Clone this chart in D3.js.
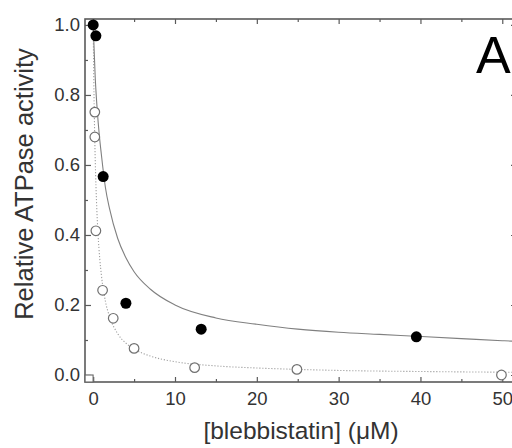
<!DOCTYPE html>
<html>
<head>
<meta charset="utf-8">
<script src="https://cdn.jsdelivr.net/npm/d3@7"></script>
<style>
  html, body { margin: 0; padding: 0; background: #fff; }
  svg { display: block; }
  text { font-family: "Liberation Sans", Arial, sans-serif; }
</style>
</head>
<body>
<svg id="chart" width="512" height="448"></svg>
<script>
// ---- data ----
const filledX = [0, 0.33, 1.22, 4.0, 13.2, 39.5];
const filledY = [1.0, 0.969, 0.567, 0.205, 0.131, 0.109];

const openX = [0.2, 0.2, 0.33, 1.15, 2.45, 5.0, 12.4, 24.9, 49.9];
const openY = [0.751, 0.68, 0.412, 0.242, 0.162, 0.076, 0.021, 0.016, 0.0];

const squareX = [-0.5];
const squareY = [-0.01];

// solid fitted curve (filled circles)
const solidX = [0, 0.25, 0.5, 0.75, 1, 1.5, 2, 3, 4, 5, 7, 10, 15, 20, 25, 30, 35, 40, 45, 50, 52];
const solidY = [1.0, 0.85, 0.755, 0.685, 0.63, 0.535, 0.475, 0.39, 0.335, 0.295, 0.245, 0.2, 0.163, 0.145, 0.131, 0.122, 0.116, 0.11, 0.104, 0.098, 0.096];

// dotted fitted curve (open circles)
const dottedX = [0, 0.1, 0.2, 0.3, 0.4, 0.6, 0.8, 1, 1.5, 2, 3, 4, 5, 7, 10, 15, 20, 25, 30, 40, 50, 52];
const dottedY = [1.0, 0.80, 0.667, 0.571, 0.5, 0.4, 0.333, 0.286, 0.21, 0.167, 0.118, 0.091, 0.074, 0.054, 0.038, 0.026, 0.02, 0.016, 0.013, 0.01, 0.008, 0.0077];

const xMajor = [0, 10, 20, 30, 40, 50];
const xMinor = [5, 15, 25, 35, 45];
const yMajor = [0.0, 0.2, 0.4, 0.6, 0.8, 1.0];
const yMinor = [0.1, 0.3, 0.5, 0.7, 0.9];

const xTitle = "[blebbistatin] (\u03BCM)";
const yTitle = "Relative ATPase activity";
const panelLabel = "A";

// ---- layout ----
const svg = d3.select("#chart");
const pL = 85, pR = 517, pT = 19, pB = 382;

const x = d3.scaleLinear().domain([-1.0, 51.8]).range([pL, pR]);
const y = d3.scaleLinear().domain([-0.02, 1.017]).range([pB, pT]);

const axisColor = "#5a5a5a";
const textColor = "#333";

svg.append("defs").append("clipPath").attr("id", "clip")
  .append("rect").attr("x", pL).attr("y", pT)
  .attr("width", pR - pL).attr("height", pB - pT);

// curves
const line = d3.line().x(d => x(d[0])).y(d => y(d[1])).curve(d3.curveMonotoneX);
const plot = svg.append("g").attr("clip-path", "url(#clip)");

plot.append("path")
  .datum(dottedX.map((v, i) => [v, dottedY[i]]))
  .attr("d", line).attr("fill", "none")
  .attr("stroke", "#a0a0a0").attr("stroke-width", 1.1)
  .attr("stroke-dasharray", "1.2,1.8");

plot.append("path")
  .datum(solidX.map((v, i) => [v, solidY[i]]))
  .attr("d", line).attr("fill", "none")
  .attr("stroke", "#808080").attr("stroke-width", 1.1);

// axes (ticks inward)
function styleAxis(g) {
  g.select(".domain").remove();
  g.selectAll(".tick line").attr("stroke", axisColor).attr("stroke-width", 1.2);
  g.selectAll(".tick text").attr("fill", textColor);
}

// bottom
svg.append("g").attr("transform", `translate(0,${pB})`)
  .call(d3.axisBottom(x).tickValues(xMajor).tickSize(-5).tickPadding(10).tickFormat(d3.format("d")))
  .call(styleAxis)
  .call(g => g.selectAll(".tick text").attr("font-size", 18.5).attr("font-family", "Liberation Sans, Arial, sans-serif"));
svg.append("g").attr("transform", `translate(0,${pB})`)
  .call(d3.axisBottom(x).tickValues(xMinor).tickSize(-3).tickFormat(""))
  .call(styleAxis);

// top
svg.append("g").attr("transform", `translate(0,${pT})`)
  .call(d3.axisTop(x).tickValues(xMajor).tickSize(-5).tickFormat(""))
  .call(styleAxis);
svg.append("g").attr("transform", `translate(0,${pT})`)
  .call(d3.axisTop(x).tickValues(xMinor).tickSize(-3).tickFormat(""))
  .call(styleAxis);

// left
svg.append("g").attr("transform", `translate(${pL},0)`)
  .call(d3.axisLeft(y).tickValues(yMajor).tickSize(-6).tickPadding(5).tickFormat(d3.format(".1f")))
  .call(styleAxis)
  .call(g => g.selectAll(".tick text").attr("font-size", 18.5).attr("font-family", "Liberation Sans, Arial, sans-serif"));
svg.append("g").attr("transform", `translate(${pL},0)`)
  .call(d3.axisLeft(y).tickValues(yMinor).tickSize(-3).tickFormat(""))
  .call(styleAxis);

// right
svg.append("g").attr("transform", `translate(${pR},0)`)
  .call(d3.axisRight(y).tickValues(yMajor).tickSize(-6).tickFormat(""))
  .call(styleAxis);
svg.append("g").attr("transform", `translate(${pR},0)`)
  .call(d3.axisRight(y).tickValues(yMinor).tickSize(-3).tickFormat(""))
  .call(styleAxis);

// frame
svg.append("rect")
  .attr("x", pL).attr("y", pT)
  .attr("width", pR - pL).attr("height", pB - pT)
  .attr("fill", "none").attr("stroke", axisColor).attr("stroke-width", 1.6);

// markers
svg.append("g").selectAll("rect")
  .data(squareX.map((v, i) => [v, squareY[i]]))
  .join("rect")
  .attr("x", d => x(d[0]) - 4).attr("y", d => y(d[1]) - 3.5)
  .attr("width", 8).attr("height", 7)
  .attr("fill", "#fff").attr("stroke", "#666").attr("stroke-width", 1.1);

svg.append("g").selectAll("circle")
  .data(openX.map((v, i) => [v, openY[i]]))
  .join("circle")
  .attr("cx", d => x(d[0])).attr("cy", d => y(d[1])).attr("r", 4.8)
  .attr("fill", "#fff").attr("stroke", "#707070").attr("stroke-width", 1.2);

svg.append("g").selectAll("circle")
  .data(filledX.map((v, i) => [v, filledY[i]]))
  .join("circle")
  .attr("cx", d => x(d[0])).attr("cy", d => y(d[1])).attr("r", 5.5)
  .attr("fill", "#000");

// titles
svg.append("text")
  .attr("x", 301).attr("y", 439)
  .attr("text-anchor", "middle")
  .attr("font-size", 24.5).attr("fill", textColor)
  .text(xTitle);

svg.append("text")
  .attr("transform", "translate(33,184) rotate(-90)")
  .attr("text-anchor", "middle")
  .attr("font-size", 25.5).attr("fill", textColor)
  .text(yTitle);

svg.append("text")
  .attr("x", 476).attr("y", 73)
  .attr("font-size", 52).attr("fill", "#000")
  .text(panelLabel);
</script>
</body>
</html>
